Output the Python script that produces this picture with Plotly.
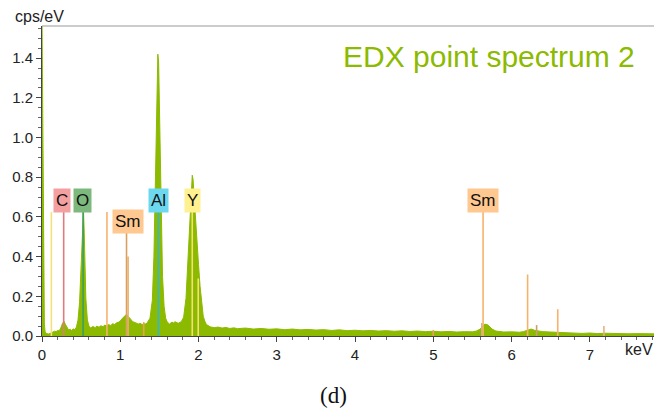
import plotly.graph_objects as go

# ---- spectrum data (keV, cps/eV) ----
energy = [0.00, 0.01, 0.02, 0.03, 0.04, 0.06, 0.08, 0.10, 0.12, 0.14, 0.16, 0.18, 0.20, 0.22, 0.24, 0.26, 0.28,
          0.30, 0.32, 0.34, 0.36, 0.38, 0.40, 0.42, 0.44, 0.46, 0.48, 0.50, 0.51, 0.52, 0.53, 0.54, 0.55, 0.56,
          0.58, 0.60, 0.62, 0.65, 0.68, 0.70, 0.73, 0.75, 0.78, 0.80, 0.83, 0.85, 0.88, 0.90, 0.93, 0.95, 0.98,
          1.00, 1.03, 1.06, 1.08, 1.10, 1.13, 1.16, 1.20, 1.23, 1.25, 1.28, 1.30, 1.33, 1.35, 1.38, 1.41, 1.43,
          1.45, 1.46, 1.47, 1.48, 1.49, 1.50, 1.51, 1.52, 1.54, 1.56, 1.58, 1.60, 1.63, 1.66, 1.68, 1.70, 1.74,
          1.78, 1.81, 1.84, 1.86, 1.88, 1.90, 1.92, 1.93, 1.94, 1.96, 1.98, 2.00, 2.02, 2.04, 2.06, 2.08, 2.10,
          2.15, 2.20, 2.25, 2.30, 2.35, 2.40, 2.45, 2.50, 2.60, 2.70, 2.80, 2.90, 3.00, 3.10, 3.20, 3.30, 3.40,
          3.50, 3.60, 3.70, 3.80, 3.90, 4.00, 4.10, 4.20, 4.30, 4.40, 4.50, 4.60, 4.70, 4.80, 4.90, 5.00, 5.10,
          5.20, 5.30, 5.40, 5.50, 5.55, 5.60, 5.63, 5.66, 5.70, 5.75, 5.80, 5.90, 6.00, 6.10, 6.15, 6.20, 6.25,
          6.30, 6.40, 6.50, 6.60, 6.70, 6.80, 6.90, 7.00, 7.10, 7.20, 7.30, 7.40, 7.50, 7.60, 7.70, 7.82]
cps = [1.62, 1.07, 0.25, 0.06, 0.02, 0.012, 0.010, 0.012, 0.015, 0.020, 0.024, 0.022, 0.028, 0.026, 0.040, 0.062,
       0.075, 0.058, 0.040, 0.030, 0.034, 0.028, 0.036, 0.032, 0.045, 0.080, 0.17, 0.38, 0.50, 0.61, 0.63, 0.52,
       0.34, 0.19, 0.08, 0.050, 0.040, 0.048, 0.042, 0.050, 0.044, 0.052, 0.046, 0.055, 0.050, 0.058, 0.052,
       0.062, 0.058, 0.066, 0.070, 0.076, 0.090, 0.105, 0.110, 0.100, 0.085, 0.072, 0.066, 0.060, 0.064, 0.058,
       0.062, 0.060, 0.070, 0.090, 0.18, 0.40, 0.80, 1.04, 1.28, 1.42, 1.38, 1.18, 0.90, 0.62, 0.30, 0.15, 0.09,
       0.070, 0.060, 0.070, 0.066, 0.072, 0.064, 0.072, 0.095, 0.19, 0.35, 0.55, 0.72, 0.81, 0.79, 0.72, 0.60,
       0.48, 0.36, 0.25, 0.16, 0.10, 0.075, 0.058, 0.046, 0.042, 0.045, 0.040, 0.043, 0.038, 0.041, 0.037,
       0.040, 0.035, 0.038, 0.034, 0.036, 0.032, 0.035, 0.031, 0.033, 0.030, 0.032, 0.028, 0.031, 0.027, 0.029,
       0.026, 0.028, 0.025, 0.027, 0.024, 0.026, 0.023, 0.025, 0.022, 0.024, 0.021, 0.023, 0.020, 0.022, 0.021,
       0.025, 0.035, 0.050, 0.060, 0.055, 0.035, 0.025, 0.020, 0.021, 0.019, 0.022, 0.030, 0.035, 0.028, 0.022,
       0.020, 0.018, 0.019, 0.016, 0.013, 0.015, 0.012, 0.014, 0.012, 0.013, 0.011, 0.012, 0.010, 0.011, 0.010]

# ---- element marker lines ----
line_energy = [0.12, 0.277, 0.525, 0.83, 1.08, 1.10, 1.30, 1.487, 1.92, 1.996, 5.00, 5.62, 5.636, 6.205, 6.32, 6.59, 7.18]
line_height = [0.625, 0.625, 0.625, 0.625, 0.52, 0.40, 0.07, 0.625, 0.625, 0.29, 0.03, 0.065, 0.625, 0.31, 0.055, 0.135, 0.05]
line_color = ["#F2E27A", "#E07B7B", "#3F9F5F", "#F6B26B", "#D9A060", "#E8B070", "#F0A050", "#2FB8D8",
              "#F5E070", "#F5E070", "#F0A060", "#D8B080", "#F6B26B", "#F6B26B", "#C8A070", "#F6B26B", "#E8B080"]

# ---- element labels ----
label_text = ["C", "O", "Sm", "Al", "Y", "Sm"]
label_x = [0.25, 0.52, 1.10, 1.49, 1.92, 5.63]
label_y = [0.685, 0.685, 0.575, 0.685, 0.685, 0.685]
label_bg = ["#F4A0A0", "#7DB87D", "#FFC890", "#6CD8F0", "#FFF090", "#FFC890"]

x_ticks = [0, 1, 2, 3, 4, 5, 6, 7]
y_ticks = [0.0, 0.2, 0.4, 0.6, 0.8, 1.0, 1.2, 1.4]

GREEN = "#8CBA00"
FONT = "Arial, Liberation Sans"

W, H = 654, 408
L, R, T, B = 42, 0, 26, 72
pw, ph = W - L - R, H - T - B


def px_to_paper(px, py):
    return (px - L) / pw, (H - B - py) / ph


fig = go.Figure()
fig.add_trace(go.Scatter(x=energy, y=cps, mode="lines", fill="tozeroy",
                         line=dict(color=GREEN, width=1), fillcolor=GREEN,
                         hoverinfo="skip", showlegend=False))
for e, h, c in zip(line_energy, line_height, line_color):
    fig.add_trace(go.Scatter(x=[e, e], y=[0, h], mode="lines",
                             line=dict(color=c, width=1.6), showlegend=False, hoverinfo="skip"))

for t, x, y, bg in zip(label_text, label_x, label_y, label_bg):
    fig.add_annotation(x=x, y=y, xref="x", yref="y", text=t, showarrow=False,
                       font=dict(family=FONT, size=17, color="#111"),
                       bgcolor=bg, borderpad=2)

tx, ty = px_to_paper(637, 57)
fig.add_annotation(x=tx, y=ty, xref="paper", yref="paper", text="EDX point spectrum 2", showarrow=False,
                   xanchor="right", yanchor="middle",
                   font=dict(family=FONT, size=30, color=GREEN))
cx, cy = px_to_paper(13, 17)
fig.add_annotation(x=cx, y=cy, xref="paper", yref="paper", text="cps/eV", showarrow=False,
                   xanchor="left", yanchor="middle",
                   font=dict(family=FONT, size=16, color="#222"))
kx, ky = px_to_paper(655, 349)
fig.add_annotation(x=kx, y=ky, xref="paper", yref="paper", text="keV", showarrow=False,
                   xanchor="right", yanchor="middle",
                   font=dict(family=FONT, size=16, color="#222"))
dx, dy = px_to_paper(333, 395)
fig.add_annotation(x=dx, y=dy, xref="paper", yref="paper", text="(d)", showarrow=False,
                   xanchor="center", yanchor="middle",
                   font=dict(family="Liberation Serif, Times New Roman", size=23, color="#111"))
fig.add_shape(type="line", xref="paper", yref="paper", x0=0, x1=1, y0=1, y1=1,
              line=dict(color="#999", width=1))

fig.update_layout(
    width=W, height=H,
    margin=dict(l=L, r=R, t=T, b=B),
    paper_bgcolor="white", plot_bgcolor="white",
    font=dict(family=FONT, size=15, color="#222"),
    xaxis=dict(range=[0, 7.82], tickvals=x_ticks, ticktext=[str(v) for v in x_ticks],
               showgrid=False, zeroline=False, showline=True, linecolor="#444", linewidth=1,
               ticks="outside", ticklen=5, tickcolor="#444",
               minor=dict(dtick=0.2, ticks="outside", ticklen=3, tickcolor="#666")),
    yaxis=dict(range=[0, 1.562], tickvals=y_ticks, ticktext=[f"{v:.1f}" for v in y_ticks],
               showgrid=False, zeroline=False, showline=True, linecolor="#444", linewidth=1,
               ticks="outside", ticklen=5, tickcolor="#444",
               minor=dict(dtick=0.05, ticks="outside", ticklen=3, tickcolor="#666")),
)

fig.write_html("out.html")
